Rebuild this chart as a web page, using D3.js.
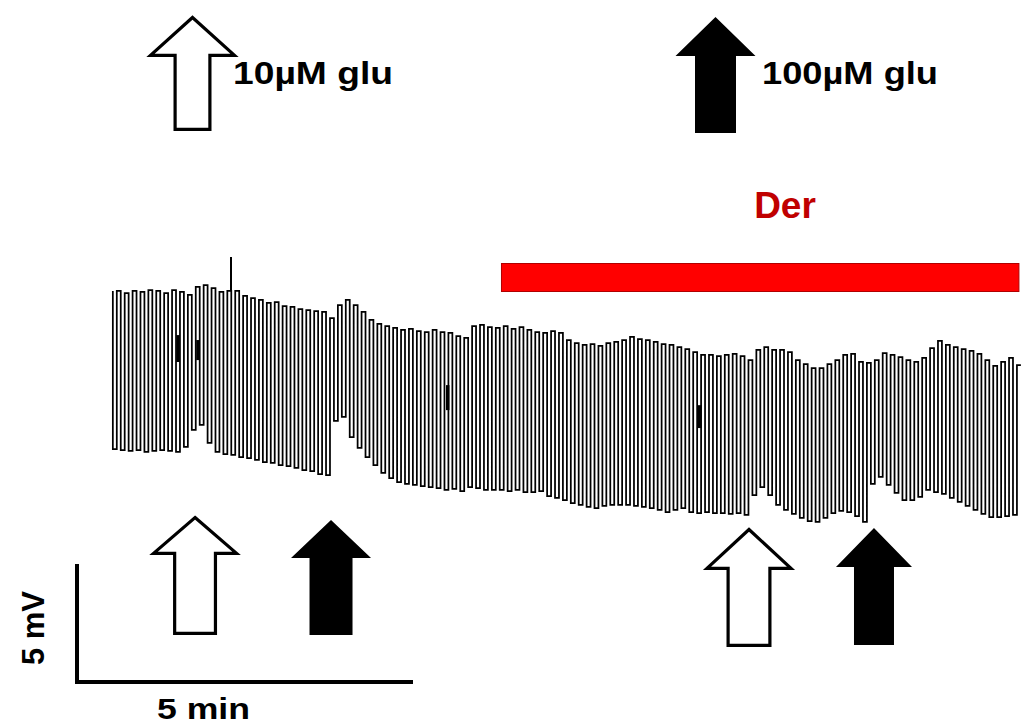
<!DOCTYPE html>
<html>
<head>
<meta charset="utf-8">
<script src="https://cdn.jsdelivr.net/npm/d3@7"></script>
<style>
  html, body { margin: 0; padding: 0; background: #fff; }
  svg { display: block; }
  text { font-family: Arial, "Liberation Sans", sans-serif; font-weight: bold; }
</style>
</head>
<body>
<svg id="chart" width="1023" height="726"></svg>
<script>
// ---------------- DATA ----------------
// membrane potential relative to initial baseline (mV), one value per stimulus cycle
const cycleStart = 32;      // s, first cycle
const cyclePeriod = 7.05;   // s
const baselineMv = [-0.04,-0.13,-0.04,-0.08,0,-0.04,-0.13,0,-0.08,-0.21,
  0.13,0.21,0.08,-0.08,-0.04,-0.04,-0.25,-0.34,-0.42,-0.55,
  -0.51,-0.68,-0.72,-0.81,-0.85,-0.89,-0.93,-1.19,-0.64,-0.42,
  -0.64,-0.93,-1.27,-1.44,-1.53,-1.61,-1.69,-1.65,-1.74,-1.78,
  -1.69,-1.78,-1.82,-1.95,-2.03,-1.53,-1.48,-1.57,-1.61,-1.53,
  -1.65,-1.57,-1.69,-1.78,-1.82,-1.74,-1.82,-2.12,-2.25,-2.33,
  -2.29,-2.37,-2.25,-2.20,-2.12,-1.99,-2.08,-2.12,-2.20,-2.29,
  -2.33,-2.42,-2.50,-2.63,-2.75,-2.75,-2.80,-2.75,-2.71,-2.80,
  -2.97,-2.54,-2.42,-2.54,-2.54,-2.63,-2.97,-3.14,-3.31,-3.31,
  -3.14,-2.97,-2.75,-2.71,-3.05,-3.09,-2.97,-2.67,-2.75,-2.84,
  -2.97,-3.05,-2.88,-2.46,-2.16,-2.33,-2.42,-2.50,-2.58,-2.71,
  -2.97,-3.22,-3.05,-2.88,-3.18];
const pulseMv = [-6.74,-6.78,-6.82,-6.78,-6.86,-6.82,-6.78,-6.82,-6.86,-6.65,
  -5.93,-5.72,-6.48,-6.86,-6.95,-6.99,-7.08,-7.12,-7.20,-7.29,
  -7.33,-7.42,-7.46,-7.54,-7.63,-7.67,-7.80,-7.84,-5.55,-5.38,
  -6.23,-6.69,-7.08,-7.42,-7.75,-7.97,-8.14,-8.22,-8.26,-8.31,
  -8.35,-8.39,-8.47,-8.43,-8.52,-8.35,-8.39,-8.47,-8.47,-8.47,
  -8.52,-8.47,-8.56,-8.56,-8.52,-8.73,-8.81,-8.90,-9.03,-9.11,
  -9.19,-9.24,-9.15,-9.11,-9.11,-9.11,-9.15,-9.19,-9.24,-9.32,
  -9.41,-9.32,-9.24,-9.41,-9.45,-9.41,-9.45,-9.45,-9.49,-9.45,
  -9.53,-8.69,-8.35,-8.69,-9.11,-9.32,-9.49,-9.66,-9.79,-9.83,
  -9.66,-9.45,-9.36,-9.41,-9.58,-9.83,-8.22,-7.92,-8.26,-8.60,
  -8.90,-8.90,-8.77,-8.47,-8.56,-8.64,-8.81,-8.98,-9.15,-9.32,
  -9.49,-9.62,-9.62,-9.58,-9.53];
// brief transients: [time s, from mV, to mV]
const spikes = [[137.5, -0.04, 1.40]];
const artifacts = [[90.2, -1.91, -3.05], [108.0, -2.12, -2.97], [331.0, -4.03, -5.09], [556.0, -4.88, -5.85]];
// glutamate applications (s) and concentration
const gluTimes = [105.4, 226.8, 600.0, 711.6];
const gluConc = ["10", "100", "10", "100"];
// Der application (s)
const derPeriod = [379, 841];
const legendLabels = ["10\u00B5M glu", "100\u00B5M glu"];
const scaleBarTime = 300;  // s (5 min)
const scaleBarMv = 5;

// ---------------- SCALES ----------------
const svg = d3.select("#chart");
const x = d3.scaleLinear().domain([0, 300]).range([77, 413]);
const y = d3.scaleLinear().domain([0, -5]).range([290, 408]);

// ---------------- TRACE ----------------
const half = cyclePeriod / 2;
const pts = [[cycleStart, baselineMv[0]]];
baselineMv.forEach((b, i) => {
  const t = cycleStart + i * cyclePeriod;
  pts.push([t, pulseMv[i]]);
  pts.push([t + half, b]);
});
pts.push([cycleStart + baselineMv.length * cyclePeriod, baselineMv[baselineMv.length - 1]]);

const line = d3.line().x(d => x(d[0])).y(d => y(d[1])).curve(d3.curveStepAfter);
svg.append("path").attr("d", line(pts))
  .attr("fill", "none").attr("stroke", "#000").attr("stroke-width", 1.75)
  .attr("stroke-linejoin", "miter");

svg.selectAll("line.spike").data(spikes).join("line").attr("class", "spike")
  .attr("x1", d => x(d[0])).attr("x2", d => x(d[0]))
  .attr("y1", d => y(d[1])).attr("y2", d => y(d[2]))
  .attr("stroke", "#000").attr("stroke-width", 2);
svg.selectAll("line.art").data(artifacts).join("line").attr("class", "art")
  .attr("x1", d => x(d[0])).attr("x2", d => x(d[0]))
  .attr("y1", d => y(d[1])).attr("y2", d => y(d[2]))
  .attr("stroke", "#000").attr("stroke-width", 3.5);

// ---------------- DER BAR ----------------
svg.append("rect")
  .attr("x", x(derPeriod[0])).attr("y", 263.5)
  .attr("width", x(derPeriod[1]) - x(derPeriod[0])).attr("height", 28)
  .attr("fill", "#ff0000").attr("stroke", "#b00000").attr("stroke-width", 1);
svg.append("text").attr("x", 785).attr("y", 218).attr("text-anchor", "middle")
  .attr("font-size", 37).attr("fill", "#c00000").text("Der");

// ---------------- ARROWS ----------------
function arrowPath(cx, tip, base, bottom, hh, sh) {
  return `M${cx},${tip} L${cx + hh},${base} L${cx + sh},${base} L${cx + sh},${bottom} ` +
         `L${cx - sh},${bottom} L${cx - sh},${base} L${cx - hh},${base} Z`;
}
function drawArrow(g, cx, tip, base, bottom, hh, sh, filled) {
  if (filled) {
    g.append("path").attr("d", arrowPath(cx, tip, base, bottom, hh, sh)).attr("fill", "#000");
  } else {
    const k = 1.6;
    g.append("path").attr("d", arrowPath(cx, tip + 2.5, base - k, bottom - k, hh - 2.5, sh - k))
      .attr("fill", "#fff").attr("stroke", "#000").attr("stroke-width", 3.2)
      .attr("stroke-linejoin", "miter");
  }
}
const arrowLayout = [
  {tip: 515, base: 555, bottom: 635, hh: 44, sh: 22},
  {tip: 520, base: 558, bottom: 635, hh: 40, sh: 21.5},
  {tip: 527, base: 570, bottom: 647, hh: 44.5, sh: 22.5},
  {tip: 528, base: 567, bottom: 645, hh: 38, sh: 20}
];
const ga = svg.append("g");
gluTimes.forEach((t, i) => {
  const L = arrowLayout[i];
  drawArrow(ga, x(t), L.tip, L.base, L.bottom, L.hh, L.sh, gluConc[i] === "100");
});

// legend arrows
drawArrow(ga, 192.5, 15, 57, 131, 44.5, 19, false);
drawArrow(ga, 715.5, 17, 56, 133, 40, 20.5, true);
svg.append("text").attr("x", 233).attr("y", 84).attr("font-size", 31)
  .attr("textLength", 160).attr("lengthAdjust", "spacingAndGlyphs").text(legendLabels[0]);
svg.append("text").attr("x", 762).attr("y", 84).attr("font-size", 31)
  .attr("textLength", 176).attr("lengthAdjust", "spacingAndGlyphs").text(legendLabels[1]);

// ---------------- SCALE BAR ----------------
const sbY = 682, sbX = x(0);
const mvLen = y(-scaleBarMv) - y(0);
svg.append("path")
  .attr("d", `M${sbX},${sbY - mvLen} L${sbX},${sbY} L${x(scaleBarTime)},${sbY}`)
  .attr("fill", "none").attr("stroke", "#000").attr("stroke-width", 4)
  .attr("stroke-linejoin", "miter");
svg.append("text").attr("x", 157).attr("y", 719).attr("font-size", 30)
  .attr("textLength", 93).attr("lengthAdjust", "spacingAndGlyphs").text("5 min");
svg.append("text").attr("transform", "translate(44,628) rotate(-90)")
  .attr("text-anchor", "middle").attr("font-size", 31).text("5 mV");
</script>
</body>
</html>
